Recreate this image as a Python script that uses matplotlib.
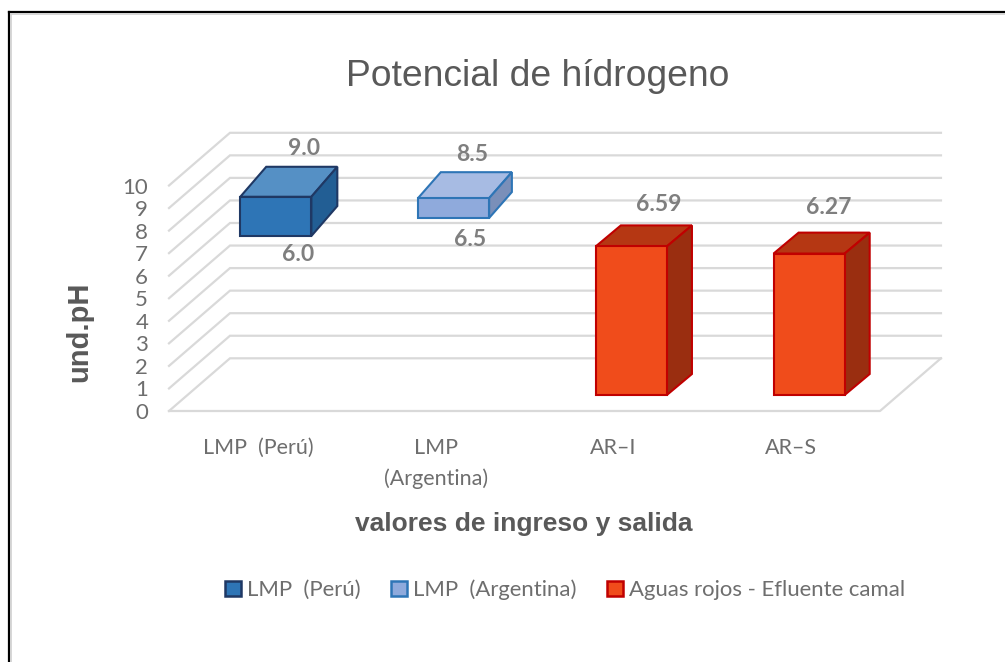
import matplotlib
matplotlib.use('Agg')
import numpy as np
import matplotlib.pyplot as plt
from matplotlib.lines import Line2D
from matplotlib.patches import Patch

# datos
categories = ['LMP  (Perú)', 'LMP\n(Argentina)', 'AR–I', 'AR–S']
bar_low = [7.05, 7.85, 0, 0]
bar_high = [8.79, 8.73, 6.59, 6.27]
high_labels = ['9.0', '8.5', '6.59', '6.27']
low_labels = ['6.0', '6.5', '', '']
y_ticks = [0, 1, 2, 3, 4, 5, 6, 7, 8, 9, 10]
legend_labels = ['LMP  (Perú)', 'LMP  (Argentina)', 'Aguas rojos - Efluente camal']

W, H = 1005, 662
PT = 0.72  # px a puntos con dpi 100

# estilos por barra
front_colors = ['#2e75b6', '#8faadc', '#f04c1b', '#f04c1b']
top_colors = ['#5590c5', '#a7bbe3', '#b53713', '#b53713']
side_colors = ['#225e94', '#7a8fb9', '#9a2e10', '#9a2e10']
edge_colors = ['#1f3864', '#2e75b6', '#c00000', '#c00000']
depth_x = [0.146, 0.128, 0.141, 0.141]
depth_y = [1.33, 1.15, 0.93, 0.93]
high_offset = [(28, 48), (19, 44), (27, 42), (20, 46)]
low_offset = [(22, -18), (16, -22), (0, 0), (0, 0)]

wall_dx, wall_dy = 0.343, 2.337  # profundidad del piso
shift_x, shift_y = 0.101, 0.71  # barras a media profundidad
bar_width = 0.40

plt.rcParams['font.family'] = ['Lato', 'DejaVu Sans']
grid_color = '#d9d9d9'
text_color = '#6e6e6e'

fig = plt.figure(figsize=(W / 100, H / 100), dpi=100)
ax = fig.add_axes([169 / W, (H - 411) / H, 711 / W, 225.5 / H])
ax.set_xlim(-0.5, 3.5)
ax.set_ylim(0, 10)
ax.patch.set_alpha(0)
for s in ax.spines.values():
    s.set_visible(False)

# paredes y piso
for v in y_ticks:
    ax.plot([-0.5, -0.5 + wall_dx, 3.5 + wall_dx], [v, v + wall_dy, v + wall_dy],
            color=grid_color, lw=1.6, clip_on=False, zorder=1, solid_joinstyle='miter')
ax.plot([-0.5, 3.5, 3.5 + wall_dx], [0, 0, wall_dy], color=grid_color, lw=1.6, clip_on=False, zorder=1)

# barras
for i in range(len(categories)):
    x0 = i + shift_x - bar_width / 2
    x1 = i + shift_x + bar_width / 2
    y0 = bar_low[i] + shift_y
    y1 = bar_high[i] + shift_y
    dx, dy = depth_x[i], depth_y[i]
    ax.fill([x0, x1, x1 + dx, x0 + dx], [y1, y1, y1 + dy, y1 + dy], facecolor=top_colors[i],
            edgecolor=edge_colors[i], lw=1.5, clip_on=False, zorder=3, joinstyle='miter')
    ax.fill([x1, x1 + dx, x1 + dx, x1], [y0, y0 + dy, y1 + dy, y1], facecolor=side_colors[i],
            edgecolor=edge_colors[i], lw=1.5, clip_on=False, zorder=3, joinstyle='miter')
    ax.bar(i + shift_x, bar_high[i] - bar_low[i], width=bar_width, bottom=y0, color=front_colors[i],
           edgecolor=edge_colors[i], linewidth=1.5, clip_on=False, zorder=4)
    ax.annotate(high_labels[i], (i + shift_x, y1), xytext=(high_offset[i][0] * PT, high_offset[i][1] * PT),
                textcoords='offset points', ha='center', va='center', fontsize=16.5, fontweight='bold',
                color='#7f7f7f', zorder=5)
    if low_labels[i]:
        ax.annotate(low_labels[i], (i + shift_x, y0), xytext=(low_offset[i][0] * PT, low_offset[i][1] * PT),
                    textcoords='offset points', ha='center', va='center', fontsize=16.5, fontweight='bold',
                    color='#7f7f7f', zorder=5)

ax.set_xticks(range(len(categories)))
ax.set_xticklabels(categories, fontsize=15.5, color=text_color, linespacing=1.65)
ax.set_yticks(y_ticks)
ax.set_yticklabels([str(v) for v in y_ticks], fontsize=16, color=text_color)
ax.tick_params(axis='x', length=0, pad=19.5)
ax.tick_params(axis='y', length=0, pad=15)

fig.text(538 / W, 1 - 76 / H, 'Potencial de hídrogeno', ha='center', va='center', fontsize=26.8,
         family='Liberation Sans', color='#595959')
fig.text(524 / W, 1 - 524 / H, 'valores de ingreso y salida', ha='center', va='center', fontsize=19,
         family='Liberation Sans', fontweight='bold', color='#595959')
fig.text(79 / W, 1 - 332 / H, 'und.pH', rotation=90, ha='center', va='center', fontsize=21,
         family='Liberation Sans', fontweight='bold', color='#595959')

handles = [Patch(facecolor=front_colors[0], edgecolor=edge_colors[0], linewidth=1.8),
           Patch(facecolor=front_colors[1], edgecolor=edge_colors[1], linewidth=1.8),
           Patch(facecolor=front_colors[2], edgecolor=edge_colors[2], linewidth=1.8)]
fig.legend(handles, legend_labels, ncol=3, loc='center', bbox_to_anchor=(565 / W, 1 - 590 / H), frameon=False,
           fontsize=15.9, labelcolor=text_color, handlelength=0.72, handleheight=0.72, handletextpad=0.25,
           columnspacing=1.4)

# marco de la captura
fig.add_artist(Line2D([9 / W, 9 / W], [0, 1 - 12 / H], color='black', lw=1.6))
fig.add_artist(Line2D([9 / W, 1], [1 - 12 / H, 1 - 12 / H], color='black', lw=1.6))
fig.add_artist(Line2D([11 / W, 11 / W], [0, 1 - 14 / H], color='#d0d0d0', lw=1.2))
fig.add_artist(Line2D([11 / W, 1], [1 - 14 / H, 1 - 14 / H], color='#d0d0d0', lw=1.2))

plt.savefig('out.png', dpi=100)
plt.close()
